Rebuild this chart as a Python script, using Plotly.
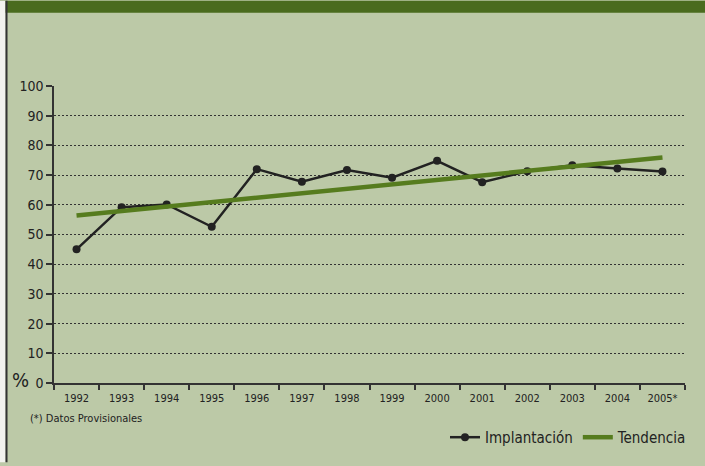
import plotly.graph_objects as go

years = ["1992", "1993", "1994", "1995", "1996", "1997", "1998", "1999",
         "2000", "2001", "2002", "2003", "2004", "2005*"]
implantacion = [45.0, 59.2, 60.1, 52.6, 72.0, 67.8, 71.7, 69.1,
                74.8, 67.6, 71.3, 73.3, 72.2, 71.2]
trend_years = ["1992", "2005*"]
tendencia = [56.4, 75.9]
y_ticks = [0, 10, 20, 30, 40, 50, 60, 70, 80, 90, 100]

W, H = 705, 466
L, R, T, B = 54, 20, 86, 80
pw, ph = W - L - R, H - T - B

def px(x):
    return (x - L) / pw

def py(y):
    return (H - B - y) / ph

FONT = "DejaVu Sans Condensed, Liberation Sans Narrow, Roboto, sans-serif"
BG = "#BCC9A7"
HEADER = "#4A6B1E"
GREEN = "#567C1E"
DARK = "#222222"

fig = go.Figure()
fig.add_trace(go.Scatter(
    x=years, y=implantacion, name="Implantación", mode="lines+markers",
    line=dict(color=DARK, width=2.5), marker=dict(color=DARK, size=8)))
fig.add_trace(go.Scatter(
    x=trend_years, y=tendencia, name="Tendencia", mode="lines",
    line=dict(color=GREEN, width=4.5)))

fig.update_layout(
    width=W, height=H,
    margin=dict(l=L, r=R, t=T, b=B),
    paper_bgcolor=BG, plot_bgcolor=BG,
    font=dict(family=FONT, color=DARK),
    showlegend=True,
    legend=dict(orientation="h", x=px(692), xanchor="right", y=py(441),
                yanchor="middle", bgcolor="rgba(0,0,0,0)",
                font=dict(size=15, family=FONT, color=DARK),
                itemwidth=30),
    xaxis=dict(
        type="category", categoryorder="array", categoryarray=years,
        range=[-0.5, 13.5], showgrid=False, showline=True,
        linecolor="#333333", linewidth=1.5, ticks="outside",
        tickson="boundaries", ticklen=5, tickcolor="#333333", tickwidth=1.5,
        ticklabelstandoff=4,
        tickfont=dict(size=11, family=FONT, color=DARK), fixedrange=True),
    yaxis=dict(
        range=[0, 100], tickvals=y_ticks, showgrid=True,
        gridcolor="#333333", griddash="2px,2px", gridwidth=1,
        showline=True, linecolor="#333333", linewidth=1.5,
        ticks="outside", ticklen=6, tickcolor="#333333", tickwidth=1.5,
        zeroline=False, tickfont=dict(size=14, family=FONT, color=DARK),
        fixedrange=True),
    shapes=[
        dict(type="rect", xref="paper", yref="paper",
             x0=px(0), x1=px(W), y0=py(12), y1=py(0),
             fillcolor=HEADER, line=dict(width=0), layer="above"),
        dict(type="rect", xref="paper", yref="paper",
             x0=px(0), x1=px(5.5), y0=py(H), y1=py(0),
             fillcolor="#F2F2EE", line=dict(width=0), layer="above"),
        dict(type="rect", xref="paper", yref="paper",
             x0=px(5.5), x1=px(7.5), y0=py(H), y1=py(0),
             fillcolor="#333333", line=dict(width=0), layer="above"),
    ],
    annotations=[
        dict(text="%", xref="paper", yref="paper", x=px(20), y=py(383),
             xanchor="center", yanchor="middle", showarrow=False,
             font=dict(size=20, family=FONT, color=DARK)),
        dict(text="(*) Datos Provisionales", xref="paper", yref="paper",
             x=px(28), y=py(422), xanchor="left", yanchor="middle",
             showarrow=False, font=dict(size=11, family=FONT, color=DARK)),
    ],
)

fig.write_html("out.html", config={"displayModeBar": False},
               post_script="document.body.style.margin='0';")
